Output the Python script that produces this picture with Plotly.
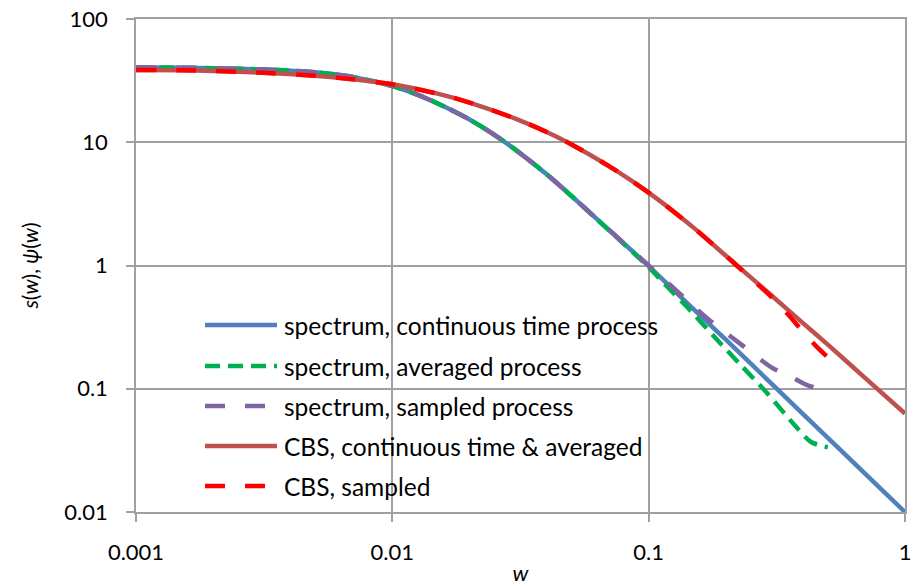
import plotly.graph_objects as go

# Frequency grids and values for each curve (log-log spectrum plot)
w_cont = [0.001, 0.0015, 0.002, 0.003, 0.004, 0.005, 0.007, 0.01, 0.013, 0.016,
          0.02, 0.025, 0.03, 0.04, 0.05, 0.07, 0.1, 0.15, 0.2, 0.3, 0.5, 0.7, 1.0]
s_cont = [40.5, 40.3, 39.9, 39.1, 38.1, 36.9, 33.9, 28.6, 23.6, 19.4,
          15.3, 11.5, 8.8, 5.5, 3.66, 1.94, 0.99, 0.44, 0.25, 0.111, 0.040, 0.0204, 0.0100]

w_avg = [0.001, 0.0015, 0.002, 0.003, 0.004, 0.005, 0.007, 0.01, 0.013, 0.016,
         0.02, 0.025, 0.03, 0.04, 0.05, 0.07, 0.1, 0.12, 0.14, 0.18, 0.23, 0.29,
         0.37, 0.43, 0.5]
s_avg = [40.5, 40.3, 39.9, 39.1, 38.1, 36.9, 33.9, 28.6, 23.6, 19.4,
         15.3, 11.5, 8.8, 5.5, 3.66, 1.93, 0.97, 0.65, 0.47, 0.265, 0.154, 0.092,
         0.051, 0.037, 0.0335]

w_smp = [0.001, 0.0015, 0.002, 0.003, 0.004, 0.005, 0.007, 0.01, 0.013, 0.016,
         0.02, 0.025, 0.03, 0.04, 0.05, 0.07, 0.1, 0.13, 0.17, 0.23, 0.3, 0.36,
         0.42, 0.5]
s_smp = [40.5, 40.3, 39.9, 39.1, 38.1, 36.9, 33.9, 28.6, 23.6, 19.4,
         15.3, 11.5, 8.8, 5.5, 3.66, 1.95, 1.0, 0.61, 0.37, 0.228, 0.150, 0.125,
         0.106, 0.098]

w_cbs = [0.001, 0.0015, 0.002, 0.003, 0.005, 0.007, 0.01, 0.015, 0.02, 0.03,
         0.04, 0.05, 0.07, 0.1, 0.15, 0.2, 0.3, 0.4, 0.5, 0.7, 1.0]
psi_cbs = [38.6, 38.3, 37.9, 36.8, 34.6, 32.4, 29.5, 24.8, 21.0, 15.6,
           12.1, 9.6, 6.4, 3.9, 2.02, 1.2, 0.577, 0.341, 0.228, 0.122, 0.063]

w_cbs_smp = [0.001, 0.0015, 0.002, 0.003, 0.005, 0.007, 0.01, 0.015, 0.02, 0.03,
             0.04, 0.05, 0.07, 0.1, 0.15, 0.2, 0.25, 0.3, 0.35, 0.4, 0.45, 0.5]
psi_cbs_smp = [38.6, 38.3, 37.9, 36.8, 34.6, 32.4, 29.5, 24.8, 21.0, 15.6,
               12.1, 9.6, 6.4, 3.9, 2.02, 1.2, 0.79, 0.56, 0.40, 0.29, 0.222, 0.18]

series_names = [
    "spectrum, continuous time process",
    "spectrum, averaged process",
    "spectrum, sampled process",
    "CBS, continuous time & averaged",
    "CBS, sampled",
]
series_colors = ["#4F81BD", "#00B050", "#8064A2", "#C0504D", "#FF0000"]
series_dash = ["solid", "15px,8px", "20px,20px", "solid", "20px,20px"]

x_ticks = [0.001, 0.01, 0.1, 1]
x_ticktext = ["0.001", "0.01", "0.1", "1"]
y_ticks = [0.01, 0.1, 1, 10, 100]
y_ticktext = ["0.01", "0.1", "1", "10", "100"]

FONT = "Lato, 'Open Sans', sans-serif"
GRID = "#A0A0A0"

data = [(w_cont, s_cont), (w_avg, s_avg), (w_smp, s_smp),
        (w_cbs, psi_cbs), (w_cbs_smp, psi_cbs_smp)]

fig = go.Figure()
for (xs, ys), name, col, dash in zip(data, series_names, series_colors, series_dash):
    fig.add_trace(go.Scatter(
        x=xs, y=ys, mode="lines", name=name, showlegend=False,
        line=dict(color=col, width=4.5, dash=dash, shape="spline", smoothing=0.8),
        hoverinfo="x+y+name",
    ))

# Legend drawn inside the plot area: line swatch + label per series
L, R, T, B = 136, 14, 19, 74
W, H = 919, 586
pw, ph = W - L - R, H - T - B
row_y = [325, 366, 406, 446, 486]
for name, col, dash, py in zip(series_names, series_colors, series_dash, row_y):
    yp = (H - B - py) / ph
    fig.add_shape(type="line", xref="paper", yref="paper",
                  x0=(205 - L) / pw, x1=(277 - L) / pw, y0=yp, y1=yp,
                  line=dict(color=col, width=4.5, dash=dash))
    fig.add_annotation(xref="paper", yref="paper", x=(282 - L) / pw, y=yp,
                       text=name, showarrow=False, xanchor="left", yanchor="middle",
                       font=dict(family=FONT, size=24.5, color="#000000"))

fig.update_layout(
    width=W, height=H,
    margin=dict(l=L, r=R, t=T, b=B, autoexpand=False),
    paper_bgcolor="white", plot_bgcolor="white",
    font=dict(family=FONT, size=22, color="#000000"),
    showlegend=False,
)
fig.update_xaxes(
    type="log", range=[-3, 0], automargin=False,
    tickvals=x_ticks, ticktext=x_ticktext,
    showgrid=True, gridcolor=GRID, gridwidth=1.5,
    showline=True, linecolor=GRID, linewidth=1.5, mirror=True,
    ticks="outside", ticklen=8, tickwidth=1.5, tickcolor=GRID,
    ticklabelstandoff=12,
    zeroline=False,
    title=dict(text="<i>w</i>", standoff=10, font=dict(family=FONT, size=22)),
)
fig.update_yaxes(
    type="log", range=[-2, 2], automargin=False,
    tickvals=y_ticks, ticktext=y_ticktext,
    showgrid=True, gridcolor=GRID, gridwidth=1.5,
    showline=True, linecolor=GRID, linewidth=1.5, mirror=True,
    ticks="outside", ticklen=8, tickwidth=1.5, tickcolor=GRID,
    ticklabelstandoff=14,
    zeroline=False,
    title=dict(text="<i>s</i>(<i>w</i>), <i>ψ</i>(<i>w</i>)", standoff=20,
               font=dict(family=FONT, size=21)),
)

fig.write_html("out.html")
